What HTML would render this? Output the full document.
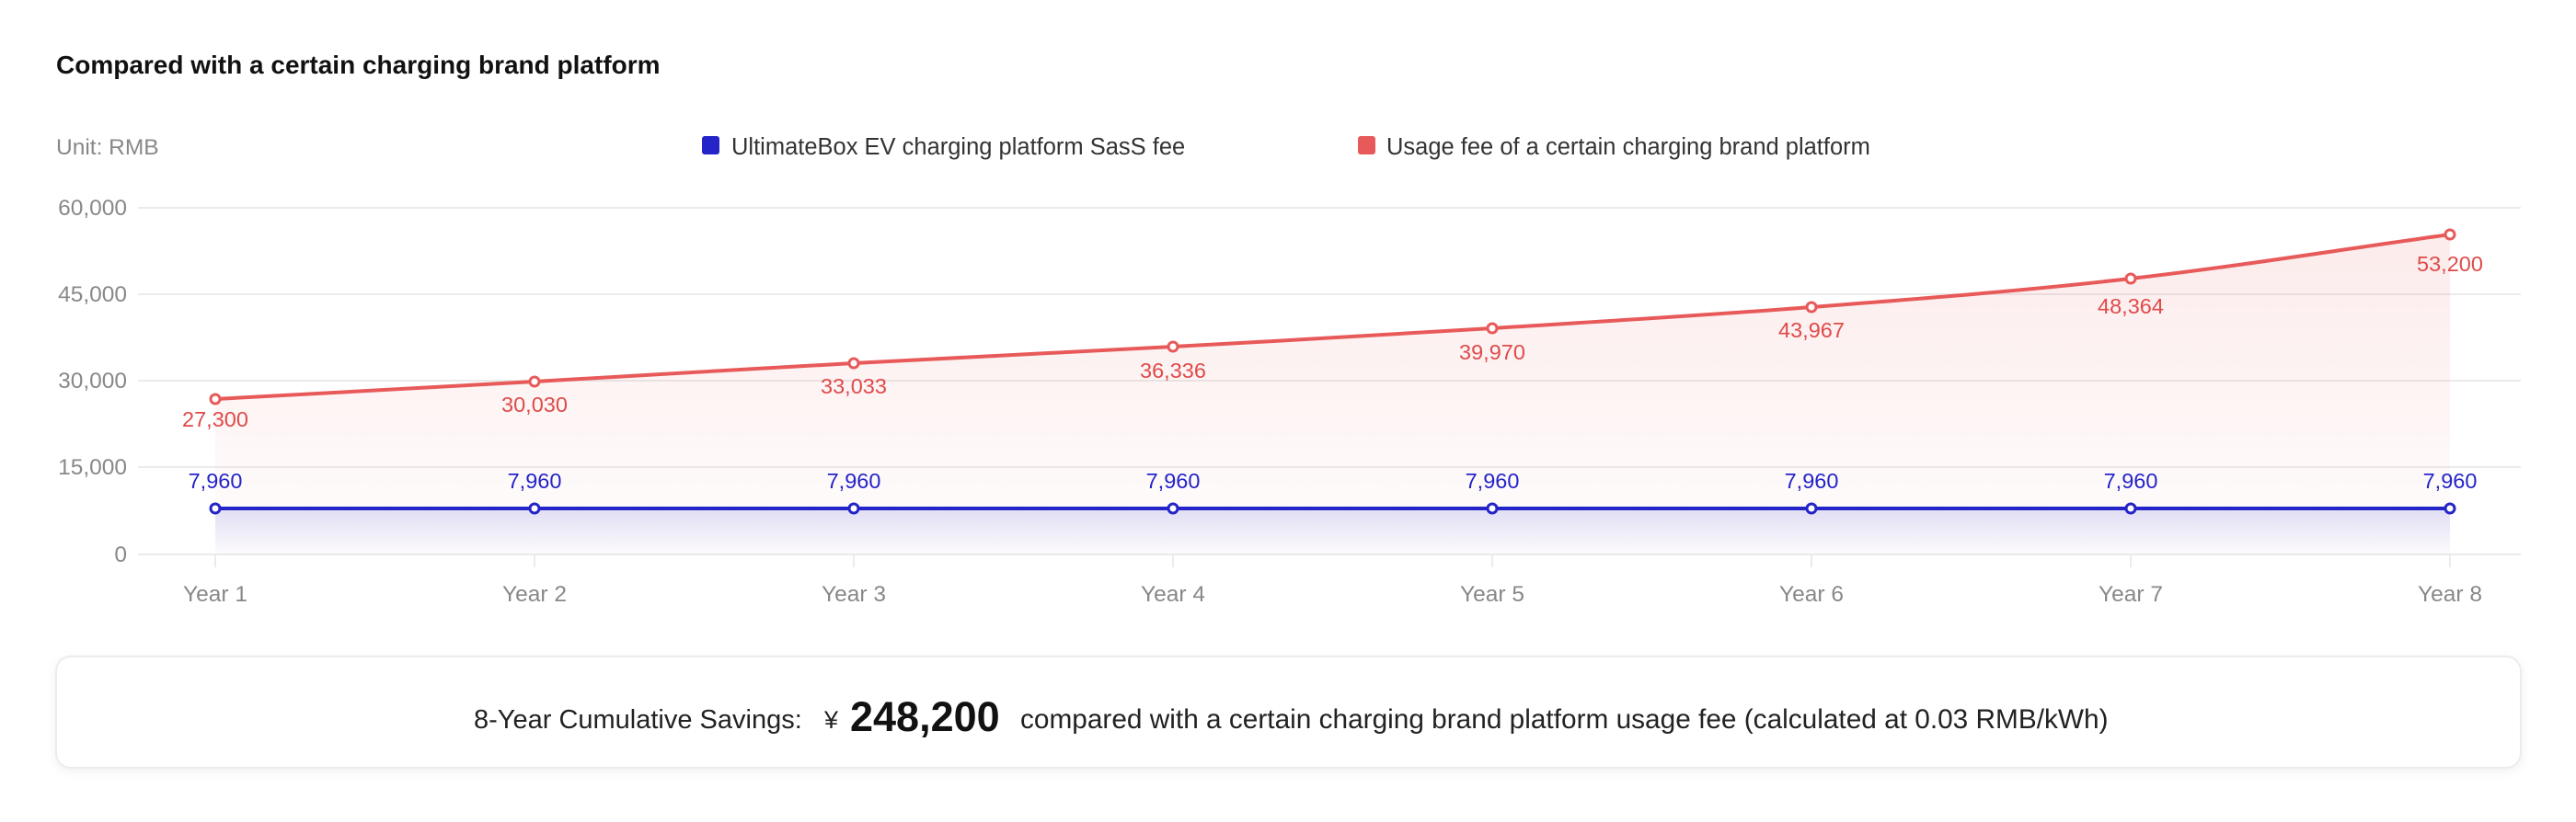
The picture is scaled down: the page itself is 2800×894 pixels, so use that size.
<!DOCTYPE html>
<html><head><meta charset="utf-8"><style>
html,body{margin:0;padding:0;background:#fff;}
body{width:2800px;height:894px;overflow:hidden;position:relative;font-family:"Liberation Sans",sans-serif;}
</style></head><body>
<svg width="2800" height="894" viewBox="0 0 2800 894" xmlns="http://www.w3.org/2000/svg" style="position:absolute;left:0;top:0">
<defs>
<linearGradient id="rg" x1="0" y1="0" x2="0" y2="1"><stop offset="0" stop-color="#e85a5a" stop-opacity="0.12"/><stop offset="1" stop-color="#e85a5a" stop-opacity="0.01"/></linearGradient>
<linearGradient id="bg" x1="0" y1="0" x2="0" y2="1"><stop offset="0" stop-color="#2a2ac8" stop-opacity="0.14"/><stop offset="1" stop-color="#2a2ac8" stop-opacity="0.01"/></linearGradient>
<filter id="sh" x="-5%" y="-20%" width="110%" height="150%"><feDropShadow dx="0" dy="3" stdDeviation="5" flood-color="#000" flood-opacity="0.06"/></filter>
</defs>
<text x="61" y="80" font-size="28" font-weight="bold" fill="#111">Compared with a certain charging brand platform</text>
<text x="61" y="168" font-size="24.5" fill="#888">Unit: RMB</text>
<rect x="763" y="148" width="19" height="20" rx="3" fill="#2424c8"/>
<text x="795" y="168" font-size="25.5" fill="#333">UltimateBox EV charging  platform SasS fee</text>
<rect x="1476" y="148" width="19" height="20" rx="3" fill="#e85a5a"/>
<text x="1507" y="168" font-size="25.5" fill="#333">Usage fee of a certain charging brand platform</text>
<g stroke="#ebebeb" stroke-width="2">
<line x1="150" y1="226" x2="2740" y2="226"/><line x1="150" y1="320" x2="2740" y2="320"/><line x1="150" y1="414" x2="2740" y2="414"/><line x1="150" y1="508" x2="2740" y2="508"/><line x1="150" y1="603" x2="2740" y2="603"/>
<line x1="234" y1="603" x2="234" y2="617"/><line x1="581" y1="603" x2="581" y2="617"/><line x1="928" y1="603" x2="928" y2="617"/><line x1="1275" y1="603" x2="1275" y2="617"/><line x1="1622" y1="603" x2="1622" y2="617"/><line x1="1969" y1="603" x2="1969" y2="617"/><line x1="2316" y1="603" x2="2316" y2="617"/><line x1="2663" y1="603" x2="2663" y2="617"/>
</g>
<g font-size="24.5" fill="#888" text-anchor="end">
<text x="138" y="234">60,000</text><text x="138" y="328">45,000</text><text x="138" y="422">30,000</text><text x="138" y="516">15,000</text><text x="138" y="611">0</text>
</g>
<g font-size="24.5" fill="#888" text-anchor="middle">
<text x="234" y="654">Year 1</text><text x="581" y="654">Year 2</text><text x="928" y="654">Year 3</text><text x="1275" y="654">Year 4</text><text x="1622" y="654">Year 5</text><text x="1969" y="654">Year 6</text><text x="2316" y="654">Year 7</text><text x="2663" y="654">Year 8</text>
</g>
<path d="M234,434 C349.7,427.7 465.3,421.5 581,415 C696.7,408.5 812.3,401.3 928,395 C1043.7,388.7 1159.3,383.3 1275,377 C1390.7,370.7 1506.3,364.2 1622,357 C1737.7,349.8 1853.3,343 1969,334 C2084.7,325 2200.3,316.2 2316,303 C2431.7,289.8 2547.3,271 2663,255 L2663,603 L234,603 Z" fill="url(#rg)"/>
<rect x="234" y="553" width="2429" height="50" fill="url(#bg)"/>
<path d="M234,434 C349.7,427.7 465.3,421.5 581,415 C696.7,408.5 812.3,401.3 928,395 C1043.7,388.7 1159.3,383.3 1275,377 C1390.7,370.7 1506.3,364.2 1622,357 C1737.7,349.8 1853.3,343 1969,334 C2084.7,325 2200.3,316.2 2316,303 C2431.7,289.8 2547.3,271 2663,255" fill="none" stroke="#e85a5a" stroke-width="4"/>
<line x1="234" y1="553" x2="2663" y2="553" stroke="#2424c8" stroke-width="4"/>
<g fill="#fff" stroke="#e85a5a" stroke-width="3">
<circle cx="234" cy="434" r="5"/><circle cx="581" cy="415" r="5"/><circle cx="928" cy="395" r="5"/><circle cx="1275" cy="377" r="5"/><circle cx="1622" cy="357" r="5"/><circle cx="1969" cy="334" r="5"/><circle cx="2316" cy="303" r="5"/><circle cx="2663" cy="255" r="5"/>
</g>
<g fill="#fff" stroke="#2424c8" stroke-width="3">
<circle cx="234" cy="553" r="5"/><circle cx="581" cy="553" r="5"/><circle cx="928" cy="553" r="5"/><circle cx="1275" cy="553" r="5"/><circle cx="1622" cy="553" r="5"/><circle cx="1969" cy="553" r="5"/><circle cx="2316" cy="553" r="5"/><circle cx="2663" cy="553" r="5"/>
</g>
<g font-size="23.5" fill="#e04a4a" text-anchor="middle">
<text x="234" y="464">27,300</text><text x="581" y="448">30,030</text><text x="928" y="428">33,033</text><text x="1275" y="411">36,336</text><text x="1622" y="391">39,970</text><text x="1969" y="367">43,967</text><text x="2316" y="341">48,364</text><text x="2663" y="295">53,200</text>
</g>
<g font-size="23.5" fill="#2424c8" text-anchor="middle">
<text x="234" y="531">7,960</text><text x="581" y="531">7,960</text><text x="928" y="531">7,960</text><text x="1275" y="531">7,960</text><text x="1622" y="531">7,960</text><text x="1969" y="531">7,960</text><text x="2316" y="531">7,960</text><text x="2663" y="531">7,960</text>
</g>
<rect x="61" y="714" width="2679" height="121" rx="16" fill="#fff" stroke="#ececec" stroke-width="2" filter="url(#sh)"/>
<text x="515" y="792" font-size="29" fill="#222">8-Year Cumulative Savings:</text>
<text x="896" y="792" font-size="27" fill="#222">¥</text>
<text x="924" y="795" font-size="45" font-weight="bold" fill="#111">248,200</text>
<text x="1109" y="792" font-size="29.8" fill="#222">compared with a certain charging brand platform usage fee (calculated at 0.03 RMB/kWh)</text>
</svg>
</body></html>
